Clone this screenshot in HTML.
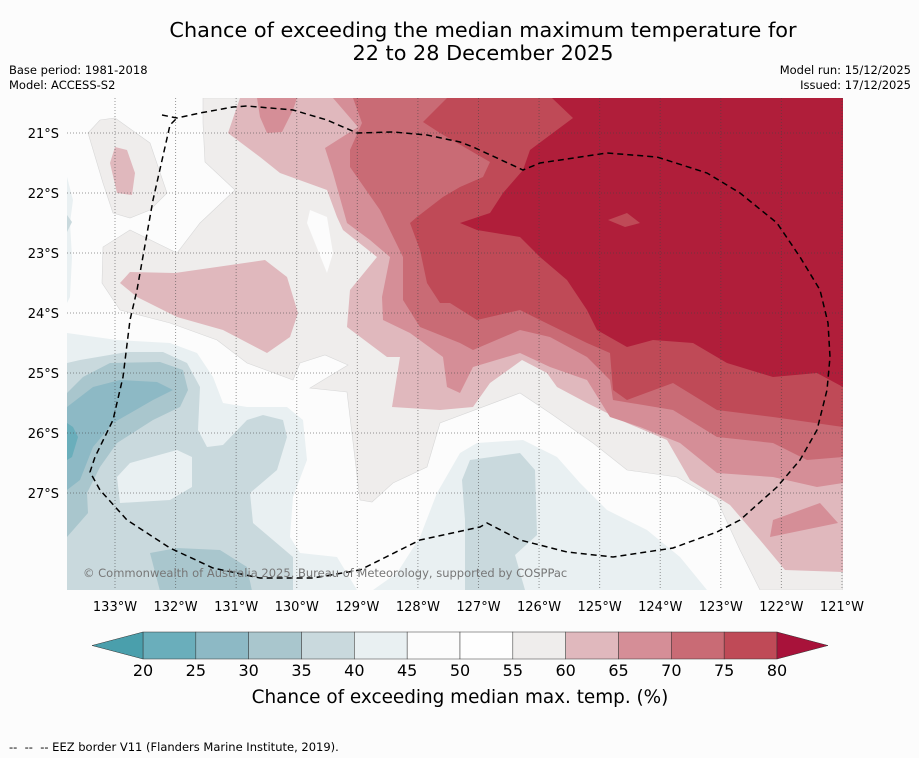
<!DOCTYPE html>
<html><head><meta charset="utf-8"><style>
body{margin:0;background:#fcfcfc;font-family:"DejaVu Sans",sans-serif;}
#wrap{position:relative;width:919px;height:758px;overflow:hidden;background:#fcfcfc;}
.t{position:absolute;white-space:nowrap;color:#000;}
</style></head><body>
<div id="wrap">
<div class="t" style="left:0;width:966px;top:19px;text-align:center;font-size:20.8px;line-height:23px;">Chance of exceeding the median maximum temperature for<br>22 to 28 December 2025</div>
<div class="t" style="left:9px;top:63px;font-size:11.5px;line-height:15px;">Base period: 1981-2018<br>Model: ACCESS-S2</div>
<div class="t" style="right:8px;top:63px;font-size:11.5px;line-height:15px;text-align:right;">Model run: 15/12/2025<br>Issued: 17/12/2025</div>
<svg width="919" height="758" style="position:absolute;left:0;top:0">
<defs><clipPath id="mc"><rect x="67" y="98" width="776" height="492"/></clipPath></defs>
<g clip-path="url(#mc)">
<rect x="67" y="98" width="776" height="492" fill="#fcfcfc"/>
<path fill="#efedec" stroke="#d8d8d8" stroke-width="0.6" d="M203,98 L203,123 L205,162 L235,190 L200,223 L177,253 L130,230 L103,247 L102,283 L120,310 L170,323 L217,340 L247,363 L293,380 L300,363 L325,355 L348,365 L310,388 L347,392 L360,500 L372,502 L393,483 L427,467 L440,423 L520,393 L550,413 L593,443 L627,470 L677,477 L717,500 L740,550 L760,590 L843,590 L843,98 Z"/>
<path fill="#efedec" stroke="#d8d8d8" stroke-width="0.6" d="M88,133 L100,120 L115,118 L150,143 L167,193 L150,210 L130,218 L113,213 L103,183 Z"/>
<path fill="#fcfcfc" d="M310,210 L327,217 L333,253 L327,273 L307,223 Z"/>
<path fill="#e0b8bd" d="M240,98 L228,133 L260,157 L280,173 L327,190 L337,217 L343,230 L377,257 L350,290 L347,327 L387,357 L400,357 L392,407 L440,410 L473,407 L490,383 L522,360 L547,373 L557,387 L587,403 L627,423 L667,440 L690,480 L730,505 L760,540 L785,570 L843,572 L843,98 Z"/>
<path fill="#e0b8bd" d="M120,283 L130,272 L175,273 L265,260 L287,277 L298,313 L290,337 L267,353 L223,330 L177,317 L137,297 Z"/>
<path fill="#e0b8bd" d="M115,147 L127,150 L135,173 L132,195 L117,193 L110,163 Z"/>
<path fill="#d58e97" d="M257,98 L260,117 L267,133 L282,132 L293,110 L297,98 Z"/>
<path fill="#d58e97" d="M333,98 L358,127 L325,148 L333,173 L347,223 L370,240 L390,257 L382,297 L383,320 L410,333 L443,357 L447,387 L460,393 L473,367 L520,353 L550,367 L587,380 L610,417 L640,427 L680,443 L717,473 L773,477 L817,487 L843,483 L843,98 Z"/>
<path fill="#d58e97" d="M773,520 L820,503 L838,523 L770,537 Z"/>
<path fill="#c96b75" d="M353,98 L362,123 L350,150 L350,167 L380,210 L403,257 L403,300 L420,327 L460,343 L473,350 L520,330 L550,337 L587,357 L610,380 L613,400 L673,410 L717,437 L773,443 L807,460 L843,457 L843,98 Z"/>
<path fill="#bf4a57" d="M447,98 L423,122 L440,133 L490,162 L483,177 L460,187 L443,197 L417,217 L410,223 L420,250 L427,283 L440,303 L450,303 L477,320 L520,310 L540,320 L587,343 L610,353 L613,390 L627,400 L673,383 L717,410 L773,417 L843,427 L843,98 Z"/>
<path fill="#b01e3a" d="M552,98 L573,118 L530,150 L523,170 L503,193 L490,213 L460,223 L477,230 L520,237 L540,257 L567,280 L587,310 L597,330 L627,347 L653,340 L693,343 L727,363 L773,377 L817,373 L843,387 L843,98 Z"/>
<path fill="#bf4a57" d="M608,220 L627,213 L640,223 L625,227 Z"/>
<path fill="#e9f0f2" d="M67,177 L73,200 L70,223 L72,257 L70,297 L67,303 Z"/>
<path fill="#e9f0f2" d="M67,333 L117,340 L170,343 L197,353 L213,377 L223,403 L247,407 L287,407 L303,420 L307,460 L293,497 L290,537 L300,553 L337,557 L357,590 L67,590 Z"/>
<path fill="#e9f0f2" d="M373,590 L397,573 L420,537 L437,493 L460,453 L477,443 L523,440 L557,457 L580,483 L607,510 L647,530 L680,557 L707,590 Z"/>
<path fill="#c9d9dd" d="M67,363 L80,360 L127,352 L163,352 L187,363 L200,387 L198,430 L207,447 L223,445 L247,420 L263,415 L283,420 L287,437 L277,470 L250,493 L253,523 L293,557 L293,590 L67,590 Z"/>
<path fill="#e9f0f2" d="M117,477 L130,463 L177,450 L192,457 L192,487 L170,500 L120,503 Z"/>
<path fill="#c9d9dd" d="M470,460 L520,453 L535,470 L537,535 L515,555 L525,590 L465,590 L465,520 L462,480 Z"/>
<path fill="#c9d9dd" d="M67,215 L72,222 L67,232 Z"/>
<path fill="#a9c6cd" d="M67,393 L83,377 L110,363 L160,362 L183,370 L188,390 L180,407 L153,420 L117,443 L100,467 L87,493 L88,513 L67,537 Z"/>
<path fill="#a9c6cd" d="M150,553 L177,548 L220,550 L247,567 L252,591 L160,591 Z"/>
<path fill="#8db9c5" d="M67,407 L93,387 L120,380 L157,382 L173,390 L153,400 L113,423 L93,447 L80,480 L67,490 Z"/>
<path fill="#6aaebb" d="M67,423 L73,427 L78,437 L72,457 L67,460 Z"/>
<g id="grid" stroke="#444" stroke-opacity="0.55" stroke-width="1" stroke-dasharray="1,2"></g>
<path fill="none" stroke="#000" stroke-width="1.5" stroke-dasharray="6,4" d="M162,115 L177,118 L200,113 L233,107 L247,106 L293,110 L327,120 L357,133 L393,132 L427,135 L460,142 L473,147 L523,170 L540,163 L607,153 L657,157 L707,173 L740,193 L777,223 L800,257 L820,290 L828,323 L830,357 L827,390 L817,430 L800,460 L777,487 L740,520 L717,532 L673,548 L613,557 L567,552 L520,540 L487,523 L480,527 L420,540 L360,570 L313,578 L260,578 L213,568 L170,548 L127,520 L100,490 L90,472 L95,457 L113,420 L123,377 L130,320 L137,290 L153,200 L170,125 L177,118"/>
<text x="83" y="577" font-size="11.5" fill="#777" font-family="DejaVu Sans, sans-serif">© Commonwealth of Australia 2025, Bureau of Meteorology, supported by COSPPac</text>
</g>
<g id="latlabels"></g>
<g id="lonlabels"></g>
<g id="cbar"></g>
<text x="460" y="703" font-size="18.4" text-anchor="middle" font-family="DejaVu Sans, sans-serif">Chance of exceeding median max. temp. (%)</text>
</svg>
<div class="t" style="left:9px;top:740px;font-size:11.5px;">-- &nbsp;-- &nbsp;-- EEZ border V11 (Flanders Marine Institute, 2019).</div>
</div>
<script>
const lonTicks=[133,132,131,130,129,128,127,126,125,124,123,122,121];
const latTicks=[21,22,23,24,25,26,27];
const cbLevels=[20,25,30,35,40,45,50,55,60,65,70,75,80];
const cbColors=["#6aaebb","#8db9c5","#a9c6cd","#c9d9dd","#e9f0f2","#fcfcfc","#fefefe","#efedec","#e0b8bd","#d58e97","#c96b75","#bf4a57"];
const cbUnder="#4a9fac", cbOver="#a8123a";
const NS="http://www.w3.org/2000/svg";
const xLon=l=>115+(133-l)*60.58;
const yLat=l=>133+(l-21)*60;
const xCb=v=>143+(v-20)*(634/60);
function mk(t,a,p){const e=document.createElementNS(NS,t);for(const k in a)e.setAttribute(k,a[k]);p.appendChild(e);return e;}
const grid=document.getElementById('grid');
lonTicks.forEach(l=>{const e=mk('line',{x1:xLon(l),x2:xLon(l),y1:98,y2:590},grid);

});
latTicks.forEach(l=>{const e=mk('line',{x1:67,x2:843,y1:yLat(l),y2:yLat(l)},grid);

});
const lat=document.getElementById('latlabels');
latTicks.forEach(l=>{const e=mk('text',{x:59,y:yLat(l)+5,'font-size':13,'text-anchor':'end','font-family':'DejaVu Sans, sans-serif'},lat);e.textContent=l+'°S';

});
const lon=document.getElementById('lonlabels');
lonTicks.forEach(l=>{const e=mk('text',{x:xLon(l),y:611,'font-size':13,'text-anchor':'middle','font-family':'DejaVu Sans, sans-serif'},lon);e.textContent=l+'°W';

});
const cb=document.getElementById('cbar');
cbColors.forEach((c,i)=>{const e=mk('rect',{x:xCb(cbLevels[i]),y:632,width:xCb(cbLevels[i+1])-xCb(cbLevels[i]),height:27,fill:c,stroke:'#333','stroke-width':0.5},cb);

});
const u=mk('polygon',{points:`92,645.5 ${xCb(20)},632 ${xCb(20)},659`,fill:cbUnder,stroke:'#333','stroke-width':0.5},cb);


const o=mk('polygon',{points:`828,645.5 ${xCb(80)},632 ${xCb(80)},659`,fill:cbOver,stroke:'#333','stroke-width':0.5},cb);


cbLevels.forEach(v=>{const e=mk('text',{x:xCb(v),y:676,'font-size':16,'text-anchor':'middle','font-family':'DejaVu Sans, sans-serif'},cb);e.textContent=v;

});
</script>
</body></html>
